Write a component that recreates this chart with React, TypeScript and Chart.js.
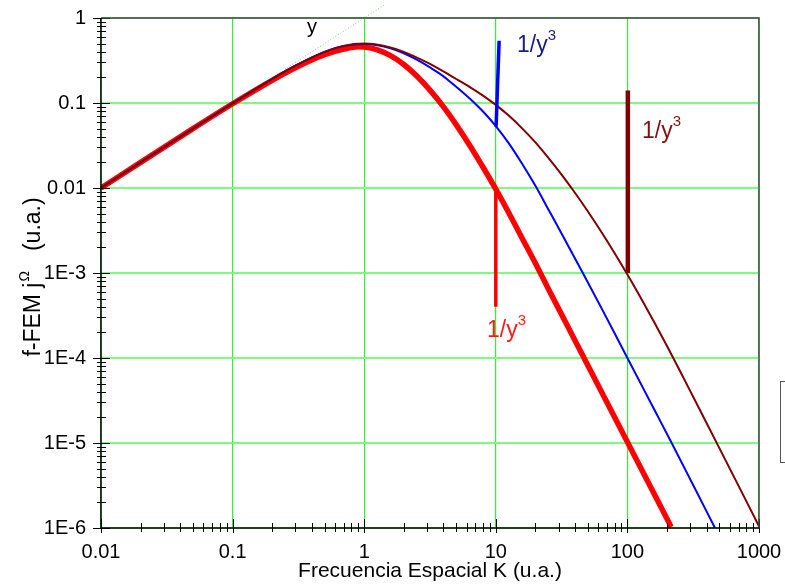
import React, { useEffect, useRef } from "react";
import { Chart, registerables } from "chart.js";
Chart.register(...registerables);

const FONT = '"Liberation Sans", Arial, sans-serif';

// Axis ticks
const xTickValues = [0.01, 0.1, 1, 10, 100, 1000];
const xTickLabels = ["0.01", "0.1", "1", "10", "100", "1000"];
const yTickValues = [1e-6, 1e-5, 1e-4, 1e-3, 0.01, 0.1, 1];
const yTickLabels = ["1E-6", "1E-5", "1E-4", "1E-3", "0.01", "0.1", "1"];

// Brown (dark red) curve
const brownK = [0.01, 0.02, 0.05, 0.1, 0.2, 0.3, 0.5, 0.7, 1, 1.5, 2, 3, 4, 5, 6.31, 7.94, 10, 12.6, 15.85, 20, 25.1, 31.6, 39.8, 50.1, 63.1, 79.4, 100, 125.9, 158.5, 199.5, 251, 316, 500, 1000];
const brownV = [0.01, 0.02, 0.05, 0.099, 0.192, 0.275, 0.4, 0.47, 0.5, 0.46, 0.4, 0.3, 0.235, 0.1916, 0.155, 0.123, 0.095, 0.0706, 0.0503, 0.0344, 0.0226, 0.01437, 0.00885, 0.0053, 0.00308, 0.001746, 9.6e-4, 5.16e-4, 2.7e-4, 1.39e-4, 7.02e-5, 3.5e-5, 8.7e-6, 1.05e-6];

// Blue curve
const blueK = [0.01, 0.02, 0.05, 0.1, 0.2, 0.3, 0.5, 0.7, 1, 1.26, 1.585, 2, 2.51, 3.16, 3.77, 4.47, 5.35, 6.7, 8.13, 10, 12.6, 15.85, 20, 25.1, 31.6, 39.8, 50.1, 63.1, 79.4, 100, 158.5, 217, 316, 463];
const blueV = [0.01, 0.02, 0.05, 0.099, 0.192, 0.275, 0.4, 0.47, 0.495, 0.478, 0.44, 0.385, 0.323, 0.262, 0.22, 0.179, 0.142, 0.104, 0.0773, 0.0535, 0.0333, 0.0193, 0.0106, 0.0056, 0.00292, 0.0015, 7.73e-4, 3.94e-4, 2.0e-4, 1.0e-4, 2.55e-5, 1.0e-5, 3.2e-6, 1.0e-6];

// Red (thick) curve
const redK = [0.01, 0.02, 0.05, 0.1, 0.2, 0.3, 0.5, 0.7, 0.9, 1, 1.26, 1.585, 2, 2.51, 3.16, 3.98, 5.01, 6.31, 7.94, 10, 12.6, 15.85, 20, 25.1, 39.8, 63.1, 100, 158.5, 215];
const redV = [0.01, 0.02, 0.05, 0.098, 0.185, 0.26, 0.37, 0.43, 0.458, 0.455, 0.422, 0.3605, 0.284, 0.2077, 0.1417, 0.0912, 0.0553, 0.0321, 0.0179, 0.0097, 0.00505, 0.00257, 0.0013, 6.5e-4, 1.63e-4, 4.1e-5, 1.03e-5, 2.58e-6, 1.03e-6];

// 1/y^3 marker segments
const redCutK = [10, 10];
const redCutV = [0.01, 4e-4];
const blueCutK = [10.05, 10.6];
const blueCutV = [0.0526, 0.54];
const brownCutK = [100.8, 100.8];
const brownCutV = [1e-3, 0.14];

// asymptote y = K (dotted)
const asymK = [0.25, 1.45];
const asymV = [0.25, 1.45];

const pts = (k: number[], v: number[]) => k.map((x, i) => ({ x, y: v[i] }));

type Part = [string, boolean, number?];
function richWidth(ctx: CanvasRenderingContext2D, parts: Part[], size: number, sup: number) {
  let w = 0;
  for (const [t, s, gap] of parts) {
    ctx.font = `${s ? sup : size}px ${FONT}`;
    w += ctx.measureText(t).width + (gap || 0);
  }
  return w;
}
function drawRich(ctx: CanvasRenderingContext2D, x: number, y: number, parts: Part[], size: number, sup: number, raise: number, color: string) {
  ctx.fillStyle = color;
  ctx.textAlign = "left";
  ctx.textBaseline = "alphabetic";
  let cx = x;
  for (const [t, s, gap] of parts) {
    ctx.font = `${s ? sup : size}px ${FONT}`;
    ctx.fillText(t, cx, s ? y - raise : y);
    cx += ctx.measureText(t).width + (gap || 0);
  }
}

const notes = [
  { k: 0.401, v: 0.667, parts: [["y", false]] as Part[], color: "#000000", size: 20, sup: 14, center: true },
  { k: 14.5, v: 0.398, parts: [["1/y", false], ["3", true]] as Part[], color: "#1c1c80", size: 23, sup: 15, center: false },
  { k: 129, v: 0.0387, parts: [["1/y", false], ["3", true]] as Part[], color: "#801010", size: 23, sup: 15, center: false },
  { k: 8.57, v: 1.77e-4, parts: [["1/y", false], ["3", true]] as Part[], color: "#ff1a1a", size: 23, sup: 15, center: false },
];

const framePlugin = {
  id: "frame",
  afterDraw(chart: any) {
    const { ctx, chartArea: ca, scales } = chart;
    const xs = scales.x, ys = scales.y;
    ctx.save();
    // tick marks
    ctx.strokeStyle = "#000";
    ctx.lineWidth = 1;
    for (let e = -2; e <= 3; e++) {
      for (let m = 1; m <= 9; m++) {
        const v = m * Math.pow(10, e);
        if (v > 1000 * 1.0001) continue;
        const px = Math.round(xs.getPixelForValue(v)) + 0.5;
        const major = m === 1;
        ctx.beginPath();
        ctx.moveTo(px, ca.bottom - (major ? 9 : 5));
        ctx.lineTo(px, ca.bottom + (major ? 5 : 4));
        ctx.stroke();
      }
    }
    for (let e = -6; e <= 0; e++) {
      for (let m = 1; m <= 9; m++) {
        const v = m * Math.pow(10, e);
        if (v > 1.0001) continue;
        const py = Math.round(ys.getPixelForValue(v)) + 0.5;
        const major = m === 1;
        ctx.beginPath();
        ctx.moveTo(ca.left - (major ? 8 : 4), py);
        ctx.lineTo(ca.left + (major ? 9 : 5), py);
        ctx.stroke();
      }
    }
    // frame
    ctx.lineWidth = 1.5;
    ctx.strokeStyle = "#444";
    ctx.beginPath();
    ctx.moveTo(ca.left, ca.top);
    ctx.lineTo(ca.right, ca.top);
    ctx.lineTo(ca.right, ca.bottom);
    ctx.stroke();
    ctx.strokeStyle = "#000";
    ctx.beginPath();
    ctx.moveTo(ca.left, ca.top);
    ctx.lineTo(ca.left, ca.bottom);
    ctx.lineTo(ca.right, ca.bottom);
    ctx.stroke();

    // annotations
    for (const n of notes) {
      const px = xs.getPixelForValue(n.k);
      const py = ys.getPixelForValue(n.v);
      const w = richWidth(ctx, n.parts, n.size, n.sup);
      drawRich(ctx, n.center ? px - w / 2 : px, py, n.parts, n.size, n.sup, 12, n.color);
    }

    // x title
    ctx.fillStyle = "#000";
    ctx.font = `21px ${FONT}`;
    ctx.textAlign = "center";
    ctx.textBaseline = "alphabetic";
    ctx.fillText("Frecuencia Espacial K (u.a.)", (ca.left + ca.right) / 2, 577);

    // y title (rotated)
    const yParts: Part[] = [["f-FEM j", false, 1], ["Ω", true, 20], ["(u.a.)", false]];
    ctx.save();
    ctx.translate(40, 277);
    ctx.rotate(-Math.PI / 2);
    const tw = richWidth(ctx, yParts, 23, 14);
    drawRich(ctx, -tw / 2, 0, yParts, 23, 14, 11, "#000");
    ctx.restore();

    // cut-off legend box at the right edge
    ctx.strokeStyle = "#555";
    ctx.lineWidth = 1;
    ctx.strokeRect(780.5, 381.5, 30, 81);
    ctx.restore();
  },
};

export default function App() {
  const ref = useRef<HTMLCanvasElement>(null);
  useEffect(() => {
    const canvas = ref.current!;
    const chart = new Chart(canvas, {
      type: "scatter",
      data: {
        datasets: [
          { data: pts(redCutK, redCutV), showLine: true, borderColor: "#ff0000", borderWidth: 3.5, pointRadius: 0, order: 0 },
          { data: pts(blueCutK, blueCutV), showLine: true, borderColor: "#0000ff", borderWidth: 3.5, pointRadius: 0, order: 0 },
          { data: pts(brownCutK, brownCutV), showLine: true, borderColor: "#800000", borderWidth: 4.5, pointRadius: 0, order: 0 },
          { data: pts(brownK, brownV), showLine: true, borderColor: "#800000", borderWidth: 2, pointRadius: 0, cubicInterpolationMode: "monotone", order: 1 },
          { data: pts(blueK, blueV), showLine: true, borderColor: "#0000ff", borderWidth: 2, pointRadius: 0, cubicInterpolationMode: "monotone", order: 2 },
          { data: pts(redK, redV), showLine: true, borderColor: "#ff0000", borderWidth: 5.5, pointRadius: 0, cubicInterpolationMode: "monotone", order: 3 },
          { data: pts(asymK, asymV), showLine: true, borderColor: "rgba(130,185,130,0.9)", borderWidth: 1, borderDash: [1, 2], pointRadius: 0, order: 10, clip: false },
        ] as any,
      },
      options: {
        responsive: false,
        animation: false,
        events: [],
        layout: { padding: { left: 0, right: 26, top: 18, bottom: 0 } },
        plugins: { legend: { display: false }, tooltip: { enabled: false }, title: { display: false } },
        scales: {
          x: {
            type: "logarithmic",
            min: 0.01,
            max: 1000,
            afterBuildTicks: (axis: any) => {
              axis.ticks = xTickValues.map((v) => ({ value: v }));
            },
            afterFit: (axis: any) => {
              axis.height = 60;
              axis.paddingLeft = 0;
              axis.paddingRight = 0;
              axis.paddingTop = 0;
              axis.paddingBottom = 0;
            },
            ticks: {
              autoSkip: false,
              maxRotation: 0,
              padding: 12,
              color: "#000",
              font: { family: FONT, size: 20 },
              callback: (value: any, index: number) => xTickLabels[index],
            },
            grid: { color: "#33f033", lineWidth: 1.2, drawTicks: false },
            border: { display: false },
          },
          y: {
            type: "logarithmic",
            min: 1e-6,
            max: 1,
            afterBuildTicks: (axis: any) => {
              axis.ticks = yTickValues.map((v) => ({ value: v }));
            },
            afterFit: (axis: any) => {
              axis.width = 101;
              axis.paddingLeft = 0;
              axis.paddingRight = 0;
              axis.paddingTop = 0;
              axis.paddingBottom = 0;
            },
            ticks: {
              autoSkip: false,
              padding: 15,
              color: "#000",
              font: { family: FONT, size: 20 },
              callback: (value: any, index: number) => yTickLabels[index],
            },
            grid: { color: "#7cfc7c", lineWidth: 2, drawTicks: false },
            border: { display: false },
          },
        },
      } as any,
      plugins: [framePlugin],
    });
    return () => chart.destroy();
  }, []);
  return (
    <div style={{ position: "fixed", left: 0, top: 0, width: 785, height: 588, background: "#fff" }}>
      <canvas ref={ref} width={785} height={588} style={{ width: 785, height: 588, display: "block" }} />
    </div>
  );
}
